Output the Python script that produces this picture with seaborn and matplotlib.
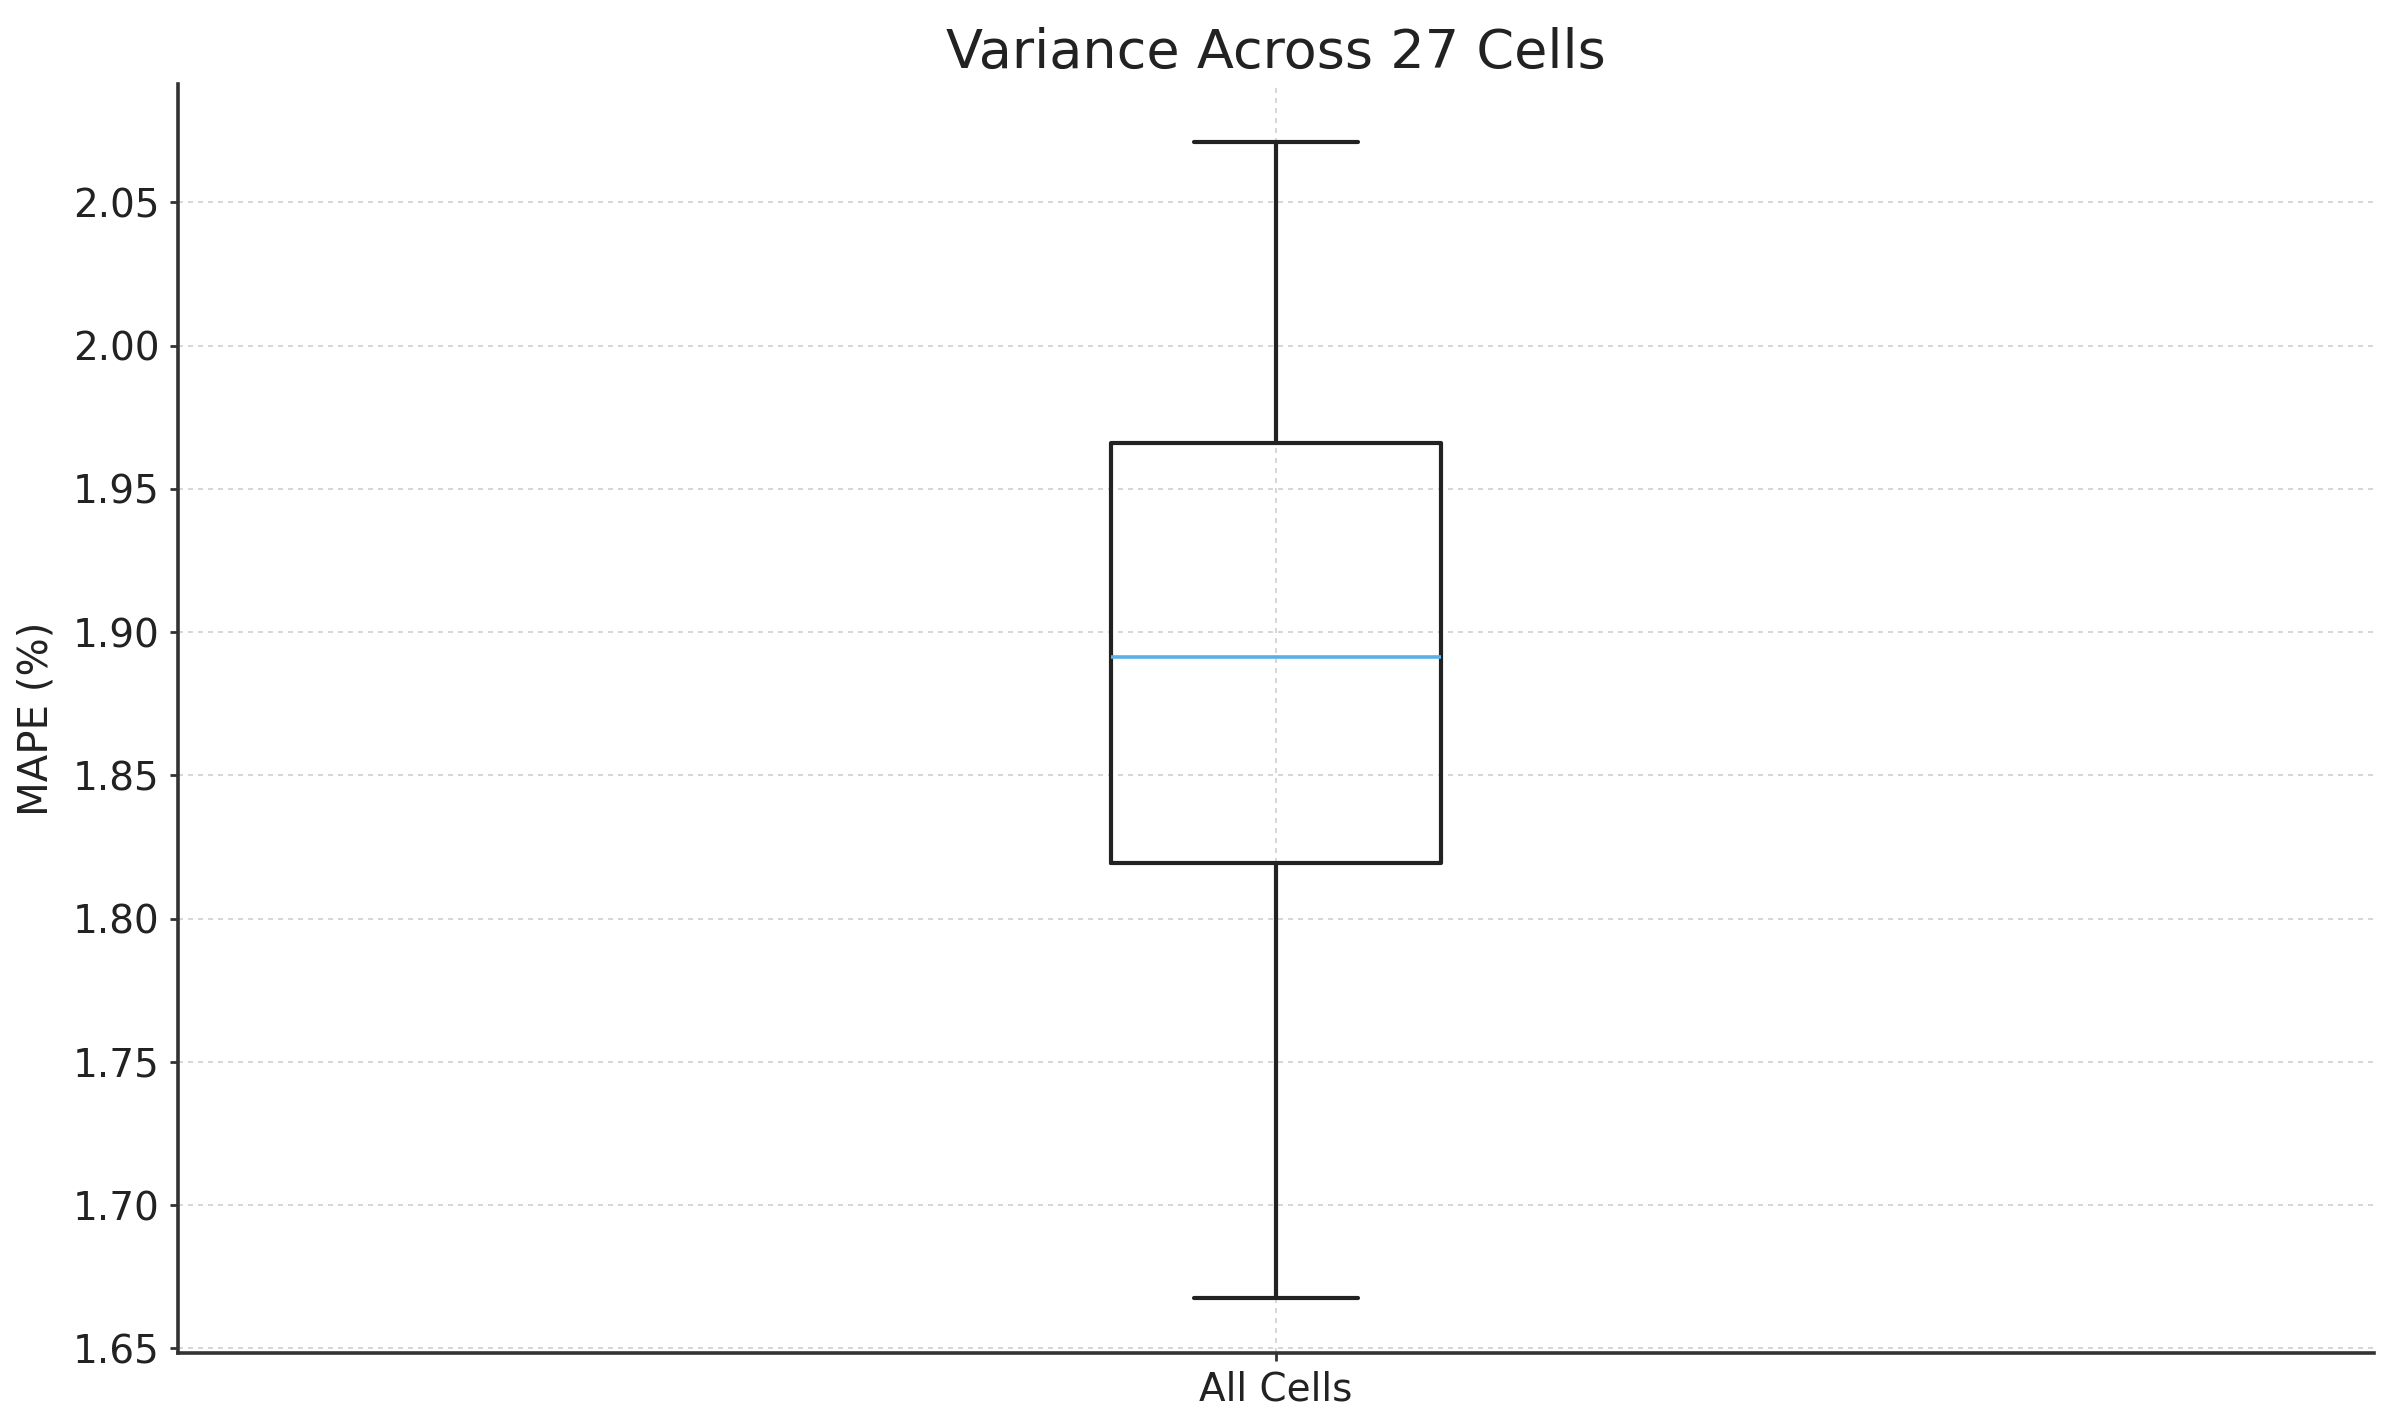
import numpy as np
import pandas as pd
import seaborn as sns
import matplotlib.pyplot as plt

# ---- data (five-number summary) ----
categories = ["All Cells"]
mape_values = [1.6676, 1.8193, 1.8914, 1.9660, 2.0709]  # min, Q1, median, Q3, max
y_ticks = [1.65, 1.70, 1.75, 1.80, 1.85, 1.90, 1.95, 2.00, 2.05]
y_limits = [1.6484, 2.0912]
title_text = "Variance Across 27 Cells"
y_label = "MAPE (%)"

df = pd.DataFrame({"group": categories * len(mape_values), "MAPE": mape_values})

sns.set_style("white")
plt.rcParams['font.family'] = ['DejaVu Sans']

fig, ax = plt.subplots(figsize=(12.015, 7.12), dpi=200)
fig.subplots_adjust(left=0.074, right=0.988, top=0.9408, bottom=0.0499)

sns.boxplot(data=df, x="group", y="MAPE", width=0.15, fill=False,
            color="#222222", linewidth=1.5, whis=1.5,
            medianprops=dict(color="#5aafe6", linewidth=1.3), ax=ax)

ax.set_ylim(*y_limits)
ax.set_yticks(y_ticks)
ax.set_yticklabels([f"{t:.2f}" for t in y_ticks])
ax.set_xlim(-0.5, 0.5)

ax.grid(True, linestyle=(0, (3, 3)), color="#d0d0d0", linewidth=0.6)
ax.set_axisbelow(True)

sns.despine(ax=ax)
for s in ["left", "bottom"]:
    ax.spines[s].set_color("#333333")
    ax.spines[s].set_linewidth(1.3)

ax.tick_params(axis="both", direction="out", length=3, width=1, color="#333333",
               labelsize=14, labelcolor="#222222", left=True, bottom=True)
ax.set_xlabel("")
ax.set_ylabel(y_label, fontsize=14.5, color="#222222", labelpad=6)
ax.set_title(title_text, fontsize=19.5, color="#222222", pad=6)

fig.savefig("out.png", dpi=200)
